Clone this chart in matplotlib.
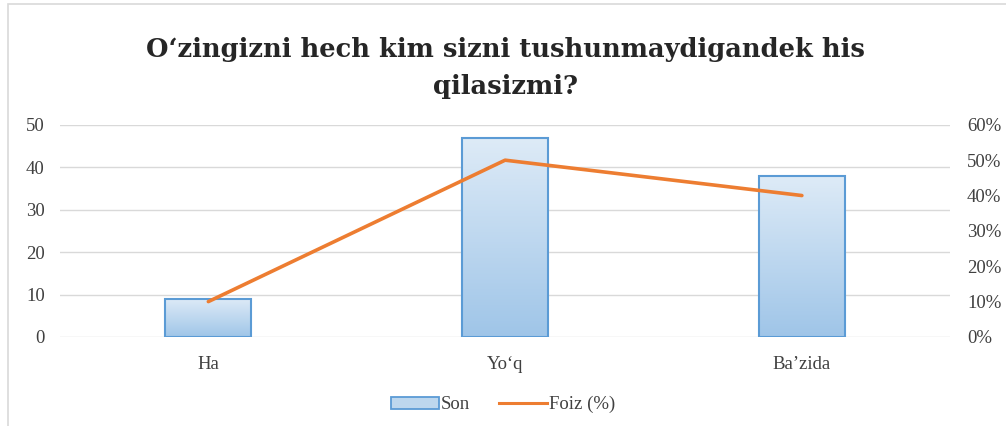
import numpy as np
import matplotlib.pyplot as plt
from matplotlib.patches import Rectangle
from matplotlib.lines import Line2D
from matplotlib.ticker import FuncFormatter
from matplotlib.colors import LinearSegmentedColormap

categories = ["Ha", "Yo‘q", "Ba’zida"]
son = [9, 47, 38]
foiz = [10, 50, 40]

title = "O‘zingizni hech kim sizni tushunmaydigandek his\nqilasizmi?"
serif = ["DejaVu Serif"]
label_font = ["Liberation Serif", "DejaVu Serif"]
text_col = "#404040"

fig = plt.figure(figsize=(10.06, 4.26), dpi=100)
fig.patches.append(Rectangle((0.008, -0.01), 1.0, 1.0, transform=fig.transFigure,
                             fill=False, edgecolor="#d9d9d9", linewidth=1.2))

ax = fig.add_axes([0.0596, 0.209, 0.885, 0.498])
x = np.arange(len(categories))
bars = ax.bar(x, son, width=0.29, color="none", edgecolor="#5b9bd5", linewidth=1.5, zorder=3)

# vertical gradient inside bars
grad = np.linspace(0, 1, 256).reshape(-1, 1)
cmap = LinearSegmentedColormap.from_list("blu", ["#9fc5e8", "#deebf7"])
for b in bars:
    im = ax.imshow(grad, cmap=cmap, origin="lower", aspect="auto", zorder=2,
                   extent=[b.get_x(), b.get_x() + b.get_width(), 0, b.get_height()])
    im.set_clip_path(b)

ax.set_xlim(-0.5, 2.5)
ax.set_ylim(0, 50)
ax.set_yticks(range(0, 51, 10))
ax.set_xticks(x)
ax.set_xticklabels(categories)
ax.grid(axis="y", color="#d9d9d9", linewidth=1, zorder=0)
ax.tick_params(length=0, labelsize=13.5, colors=text_col, pad=11)
ax.tick_params(axis="x", pad=14)
for s in ax.spines.values():
    s.set_visible(False)
for lab in ax.get_xticklabels() + ax.get_yticklabels():
    lab.set_family(label_font)

ax2 = ax.twinx()
ax2.plot(x, foiz, color="#ed7d31", linewidth=2.6, zorder=4, solid_capstyle="round")
ax2.set_ylim(0, 60)
ax2.set_yticks(range(0, 61, 10))
ax2.yaxis.set_major_formatter(FuncFormatter(lambda v, p: f"{v:.0f}%"))
ax2.tick_params(length=0, labelsize=13.5, colors=text_col, pad=12)
for s in ax2.spines.values():
    s.set_visible(False)
for lab in ax2.get_yticklabels():
    lab.set_family(label_font)

fig.text(0.502, 0.840, title, ha="center", va="center", fontsize=18.5,
         fontweight="bold", family=serif, color="#262626", linespacing=1.6)

handles = [Rectangle((0, 0), 1, 1, facecolor="#bdd7ee", edgecolor="#5b9bd5", linewidth=1.3),
           Line2D([0], [0], color="#ed7d31", linewidth=2.2)]
fig.legend(handles, ["Son", "Foiz (%)"], loc="center", bbox_to_anchor=(0.5, 0.05), ncol=2,
           frameon=False, prop={"family": label_font, "size": 13.5}, labelcolor=text_col,
           handlelength=2.6, handleheight=0.6, handletextpad=0.1, columnspacing=1.5)

fig.savefig("out.png", dpi=100)
